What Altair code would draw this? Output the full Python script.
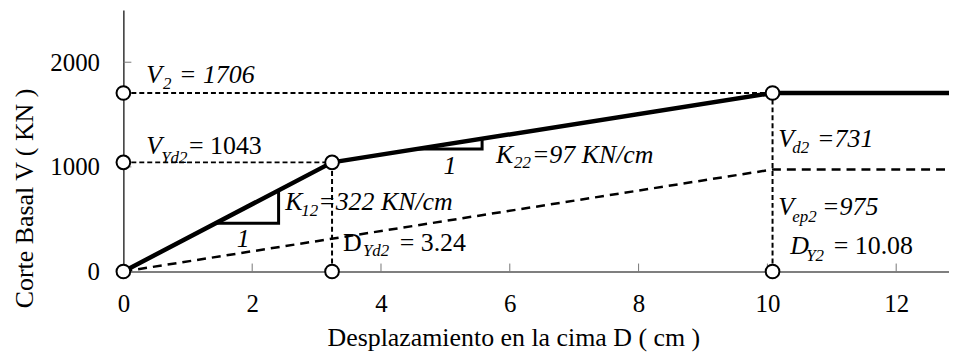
import altair as alt
import pandas as pd

FONT = "Liberation Serif"

# ---- data ----
# bilinear capacity curve
curve_d = [0, 3.24, 10.08, 13.0]
curve_v = [0, 1043, 1706, 1706]
# dashed elasto-plastic line
ep_d = [0, 10.08, 13.0]
ep_v = [0, 975, 975]
# dashed guide segments
guide_x1 = [0, 0, 3.24, 10.08]
guide_x2 = [10.08, 3.24, 3.24, 10.08]
guide_y1 = [1706, 1043, 0, 0]
guide_y2 = [1706, 1043, 1043, 1706]
# open circle markers
pt_d = [0, 0, 0, 3.24, 10.08, 3.24, 10.08]
pt_v = [0, 1043, 1706, 1043, 1706, 0, 0]
# slope triangles
tri_id = ["k12", "k12", "k12", "k22", "k22", "k22"]
tri_ord = [0, 1, 2, 0, 1, 2]
tri_d = [1.435, 2.41, 2.41, 4.55, 5.57, 5.57]
tri_v = [462, 462, 776, 1170, 1170, 1269]
# axis ticks
x_ticks = [0, 2, 4, 6, 8, 10, 12]
y_ticks = [0, 1000, 2000]
x_inner_ticks = [2, 4, 6, 8, 10, 12]
y_inner_ticks = [1000, 2000]

# annotation pieces: (x, y, text, kind)  kind: it = italic, sub = italic subscript, up = upright
ann = [
    (0.355, 1803, "V", "it"), (0.617, 1746, "2", "sub"), (0.864, 1803, "= 1706", "it"),
    (0.355, 1121, "V", "it"), (0.586, 1036, "Yd2", "sub"), (1.019, 1121, "= 1043", "up"),
    (2.515, 590, "K", "it"), (2.762, 534, "12", "sub"), (3.025, 590, "=322 KN/cm", "it"),
    (1.759, 230, "1", "it"),
    (3.410, 192, "D", "up"), (3.719, 145, "Yd2", "sub"), (4.290, 192, "= 3.24", "up"),
    (4.969, 932, "1", "it"),
    (5.787, 1036, "K", "it"), (6.065, 988, "22", "sub"), (6.343, 1036, "=97 KN/cm", "it"),
    (10.170, 1187, "V", "it"), (10.386, 1131, "d2", "sub"), (10.772, 1187, "=731", "it"),
    (10.170, 543, "V", "it"), (10.386, 477, "ep2", "sub"), (10.849, 543, "=975", "it"),
    (10.355, 164, "D", "it"), (10.602, 98, "Y2", "sub"), (11.030, 164, "= 10.08", "up"),
]

XMAX = 12.82
xs = alt.Scale(domain=[0, XMAX], nice=False, zero=False)
ys = alt.Scale(domain=[0, 2500], nice=False)

x_axis = alt.Axis(
    values=x_ticks, format="d", title="Desplazamiento en la cima D ( cm )", grid=False,
    ticks=False, tickSize=0, labelPadding=40, labelBaseline="alphabetic",
    labelFlush=False, titleX=392, titleY=74, titleAlign="center",
    titleBaseline="alphabetic", titleAnchor="start",
)
y_axis = alt.Axis(
    values=y_ticks, format="d", title="Corte Basal  V ( KN )", grid=False,
    ticks=False, tickSize=0, labelPadding=24, labelFlush=False,
    titleX=-91, titleY=189, titleAngle=270, titleAlign="center",
    titleBaseline="alphabetic", titleAnchor="start",
)

curve_df = pd.DataFrame({"d": curve_d, "v": curve_v, "i": range(len(curve_d))})
ep_df = pd.DataFrame({"d": ep_d, "v": ep_v, "i": range(len(ep_d))})
guide_df = pd.DataFrame({"x1": guide_x1, "x2": guide_x2, "y1": guide_y1, "y2": guide_y2})
pt_df = pd.DataFrame({"d": pt_d, "v": pt_v})
tri_df = pd.DataFrame({"id": tri_id, "o": tri_ord, "d": tri_d, "v": tri_v})
xt_df = pd.DataFrame({"t": x_inner_ticks})
yt_df = pd.DataFrame({"t": y_inner_ticks})
ann_df = pd.DataFrame(ann, columns=["x", "y", "t", "kind"])

guides = alt.Chart(guide_df).mark_rule(
    color="black", strokeWidth=2, strokeDash=[5, 3]
).encode(
    x=alt.X("x1:Q", scale=xs, axis=x_axis), x2="x2:Q",
    y=alt.Y("y1:Q", scale=ys, axis=y_axis), y2="y2:Q",
)

ep_line = alt.Chart(ep_df).mark_line(
    color="black", strokeWidth=2.5, strokeDash=[9, 6], clip=True
).encode(x=alt.X("d:Q", scale=xs), y=alt.Y("v:Q", scale=ys), order="i:O")

main_line = alt.Chart(curve_df).mark_line(
    color="black", strokeWidth=4.5, clip=True, strokeJoin="round"
).encode(x=alt.X("d:Q", scale=xs), y=alt.Y("v:Q", scale=ys), order="i:O")

tri = alt.Chart(tri_df).mark_line(
    color="black", strokeWidth=3, strokeJoin="miter"
).encode(x=alt.X("d:Q", scale=xs), y=alt.Y("v:Q", scale=ys), detail="id:N", order="o:O")

xt = alt.Chart(xt_df).mark_rule(color="#777", strokeWidth=1).encode(
    x=alt.X("t:Q", scale=xs), y=alt.value(263), y2=alt.value(255)
)
yt = alt.Chart(yt_df).mark_rule(color="#777", strokeWidth=1).encode(
    y=alt.Y("t:Q", scale=ys), x=alt.value(0), x2=alt.value(8)
)

pts = alt.Chart(pt_df).mark_point(
    shape="circle", size=190, filled=True, fill="white", stroke="black",
    strokeWidth=2, opacity=1
).encode(x=alt.X("d:Q", scale=xs), y=alt.Y("v:Q", scale=ys))

def txt(kind, size, style):
    props = dict(font=FONT, fontSize=size, color="black", align="left",
                 baseline="alphabetic")
    if style:
        props["fontStyle"] = style
    return alt.Chart(ann_df).transform_filter(
        alt.datum.kind == kind
    ).mark_text(**props).encode(
        x=alt.X("x:Q", scale=xs), y=alt.Y("y:Q", scale=ys), text="t:N"
    )

t_it = txt("it", 26, "italic")
t_sub = txt("sub", 17, "italic")
t_up = txt("up", 26, None)

chart = alt.layer(
    guides, ep_line, main_line, tri, xt, yt, pts, t_it, t_sub, t_up
).properties(
    width=830, height=263,
    padding={"left": 116, "top": 1, "right": 0, "bottom": 80},
    autosize=alt.AutoSizeParams(type="none"),
).configure_view(stroke=None).configure_axis(
    labelFont=FONT, labelFontSize=25, labelColor="black",
    titleFont=FONT, titleFontSize=26, titleColor="black", titleFontWeight="normal",
    domainColor="black", domainWidth=1.2,
)

chart.save("out.html", embed_options={"renderer": "svg", "actions": False})
